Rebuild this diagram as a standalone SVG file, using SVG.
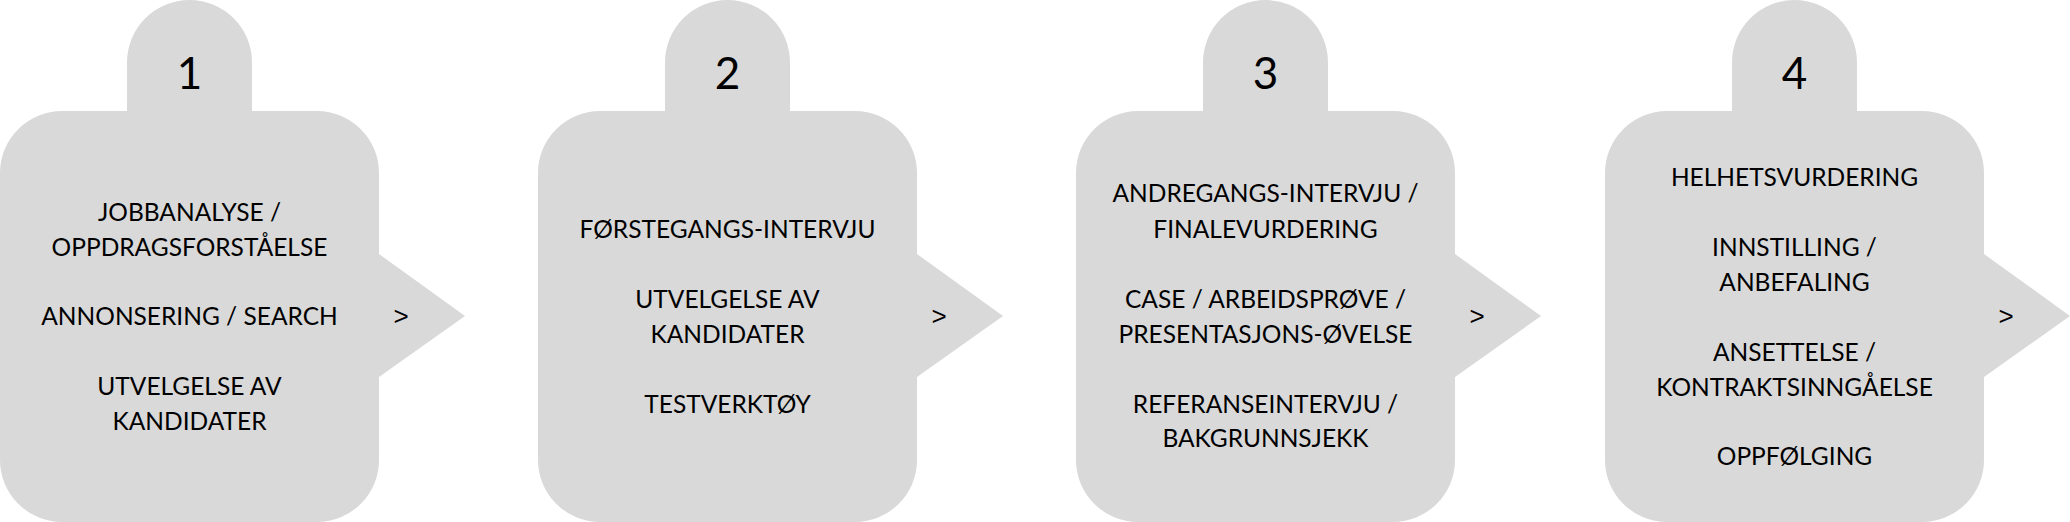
<svg xmlns="http://www.w3.org/2000/svg" xmlns:xlink="http://www.w3.org/1999/xlink" width="2070" height="522" viewBox="0 0 2070 522">
<style>
.shape{fill:#D9D9D9;stroke:none}
.t{font-family:Lato,"Liberation Sans",sans-serif;font-size:24.5px;fill:#000;text-anchor:middle}
.num{font-family:Lato,"Liberation Sans",sans-serif;font-size:44px;fill:#000;text-anchor:middle}
.gt{font-family:"Liberation Sans",sans-serif;font-size:26px;fill:#000;text-anchor:middle}
</style>
<defs>
<path id="step" d="M62,111 H127 V62.5 A62.5,62.5 0 0 1 252,62.5 V111 H317 A62,62 0 0 1 379,173 V254 L465,316 L379,377 V460 A62,62 0 0 1 317,522 H62 A62,62 0 0 1 0,460 V173 A62,62 0 0 1 62,111 Z"/>
</defs>
<g id="connectors"></g>
<g id="step1" transform="translate(0,0)">
<use xlink:href="#step" class="shape"/>
<text class="num" x="189.5" y="89">1</text>
<text class="t" x="189.5" y="221">JOBBANALYSE /</text>
<text class="t" x="189.5" y="256">OPPDRAGSFORSTÅELSE</text>
<text class="t" x="189.5" y="325">ANNONSERING / SEARCH</text>
<text class="t" x="189.5" y="395">UTVELGELSE AV</text>
<text class="t" x="189.5" y="430">KANDIDATER</text>
<text class="gt" x="401" y="325">&gt;</text>
</g>
<g id="step2" transform="translate(538,0)">
<use xlink:href="#step" class="shape"/>
<text class="num" x="189.5" y="89">2</text>
<text class="t" x="189.5" y="238">FØRSTEGANGS-INTERVJU</text>
<text class="t" x="189.5" y="308">UTVELGELSE AV</text>
<text class="t" x="189.5" y="343">KANDIDATER</text>
<text class="t" x="189.5" y="413">TESTVERKTØY</text>
<text class="gt" x="401" y="325">&gt;</text>
</g>
<g id="step3" transform="translate(1076,0)">
<use xlink:href="#step" class="shape"/>
<text class="num" x="189.5" y="89">3</text>
<text class="t" x="189.5" y="202">ANDREGANGS-INTERVJU /</text>
<text class="t" x="189.5" y="238">FINALEVURDERING</text>
<text class="t" x="189.5" y="308">CASE / ARBEIDSPRØVE /</text>
<text class="t" x="189.5" y="343">PRESENTASJONS-ØVELSE</text>
<text class="t" x="189.5" y="413">REFERANSEINTERVJU /</text>
<text class="t" x="189.5" y="447">BAKGRUNNSJEKK</text>
<text class="gt" x="401" y="325">&gt;</text>
</g>
<g id="step4" transform="translate(1605,0)">
<use xlink:href="#step" class="shape"/>
<text class="num" x="189.5" y="89">4</text>
<text class="t" x="189.5" y="186">HELHETSVURDERING</text>
<text class="t" x="189.5" y="256">INNSTILLING /</text>
<text class="t" x="189.5" y="291">ANBEFALING</text>
<text class="t" x="189.5" y="361">ANSETTELSE /</text>
<text class="t" x="189.5" y="396">KONTRAKTSINNGÅELSE</text>
<text class="t" x="189.5" y="465">OPPFØLGING</text>
<text class="gt" x="401" y="325">&gt;</text>
</g>
</svg>
